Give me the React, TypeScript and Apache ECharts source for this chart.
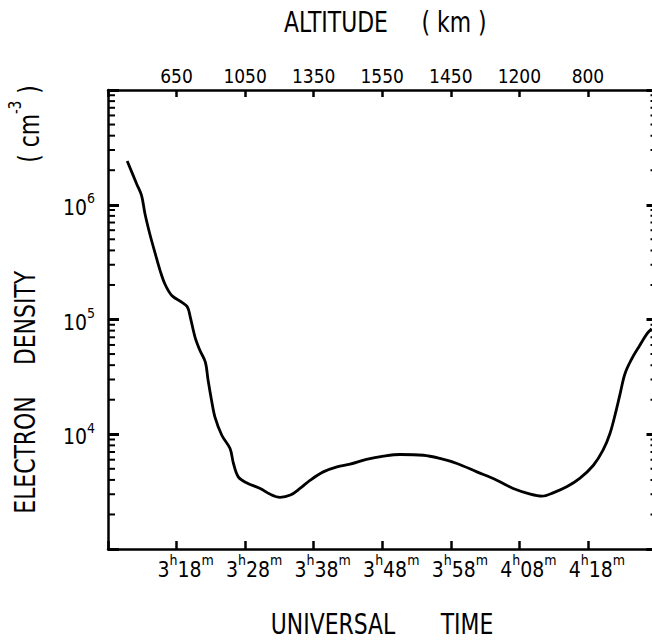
import React, { useEffect, useRef } from "react";
import * as echarts from "echarts";

// ---- data ----
// time in minutes after 0h UT (3h18m = 198)
const timeMinutes = [
  190.8, 192.2, 192.9, 193.4, 194.1, 194.9, 195.6, 196.3, 197.3, 198.8,
  199.6, 200.0, 200.7, 201.4, 202.2, 202.6, 203.1, 203.6, 204.6, 205.8,
  206.3, 207.0, 208.2, 210.2, 211.6, 213.1, 214.6, 216.0, 217.5, 219.4,
  221.4, 223.3, 225.7, 228.2, 230.6, 234.0, 236.4, 238.9, 241.8, 244.7,
  247.1, 249.6, 251.3, 253.0, 254.9, 256.8, 258.8, 260.2, 261.2, 262.0,
  262.7, 263.4, 264.4, 265.4, 266.6, 267.3,
];
// electron density, cm^-3
const electronDensity = [
  2.41e6, 1.51e6, 1.2e6, 8.3e5, 5.56e5, 3.73e5, 2.67e5, 2.04e5, 1.62e5, 1.41e5,
  1.28e5, 1.05e5, 7.0e4, 5.4e4, 4.25e4, 2.95e4, 1.98e4, 1.41e4, 9.8e3, 7.5e3,
  5.56e3, 4.25e3, 3.78e3, 3.37e3, 3.01e3, 2.82e3, 2.95e3, 3.37e3, 3.98e3, 4.7e3,
  5.2e3, 5.48e3, 6.03e3, 6.44e3, 6.66e3, 6.56e3, 6.15e3, 5.56e3, 4.7e3, 3.98e3,
  3.37e3, 3.01e3, 2.89e3, 3.1e3, 3.48e3, 4.12e3, 5.37e3, 7.26e3, 1.01e4, 1.51e4,
  2.26e4, 3.37e4, 4.55e4, 5.74e4, 7.5e4, 8.3e4,
];

const xMin = 188; // 3h08m
const xMax = 268; // 4h28m
const tickTimes = [198, 208, 218, 228, 238, 248, 258];
const timeTickHours = ["3", "3", "3", "3", "3", "4", "4"];
const timeTickMins = ["18", "28", "38", "48", "58", "08", "18"];
const altitudeLabels = ["650", "1050", "1350", "1550", "1450", "1200", "800"];

const yMin = 1e3;
const yMax = 1e7;
const decadeLabels = [4, 5, 6];
const minorMantissas = [2, 3, 4, 5, 6, 7, 8, 9];
const minorDecades = [1e3, 1e4, 1e5, 1e6];

const FONT = "'DejaVu Sans Condensed', 'Liberation Sans Narrow', 'DejaVu Sans', sans-serif";
const TFS = 28; // title font size
const TSX = 0.87; // title horizontal squeeze

export default function App() {
  const ref = useRef<HTMLDivElement>(null);

  useEffect(() => {
    if (!ref.current) return;
    const chart = echarts.init(ref.current, undefined, { renderer: "svg" });

    const lineData = timeMinutes.map((t, i) => [t, electronDensity[i]]);
    const minorTicks: number[][] = [];
    minorDecades.forEach((d) =>
      minorMantissas.forEach((m) => minorTicks.push([xMin, m * d]))
    );

    const tickIndex = (v: number) => tickTimes.indexOf(Math.round(v));
    const axisLineStyle = { color: "#000", width: 2.5 };

    const supRich = {
      n: { fontFamily: FONT, fontSize: 21, color: "#000", verticalAlign: "bottom", padding: [6, 0, 0, 0] },
      s: { fontFamily: FONT, fontSize: 14, color: "#000", verticalAlign: "top" },
    };

    const titleText = (text: string, x: number, y: number, rotation = 0) => ({
      type: "text",
      x,
      y,
      rotation,
      scaleX: TSX,
      style: {
        text,
        fontFamily: FONT,
        fontSize: TFS,
        fill: "#000",
        align: "center",
        verticalAlign: "middle",
      },
    });

    const option: any = {
      animation: false,
      backgroundColor: "#fff",
      grid: { left: 108, right: 23.5, top: 90, bottom: 95, containLabel: false },
      xAxis: [
        {
          type: "value",
          position: "bottom",
          min: xMin,
          max: xMax,
          interval: 10,
          axisLine: { show: true, lineStyle: axisLineStyle },
          axisTick: { show: true, inside: true, length: 8, lineStyle: { color: "#000", width: 2.5 } },
          splitLine: { show: false },
          axisLabel: {
            margin: 4,
            padding: [0, 0, 0, 18],
            formatter: (v: number) => {
              const i = tickIndex(v);
              if (i < 0) return "";
              return `{n|${timeTickHours[i]}}{s|h}{n|${timeTickMins[i]}}{s|m}`;
            },
            rich: supRich,
          },
        },
        {
          type: "value",
          position: "top",
          min: xMin,
          max: xMax,
          interval: 10,
          axisLine: { show: true, lineStyle: axisLineStyle },
          axisTick: { show: true, inside: true, length: 7, lineStyle: { color: "#000", width: 2.5 } },
          splitLine: { show: false },
          axisLabel: {
            margin: 5,
            fontFamily: FONT,
            fontSize: 19,
            color: "#000",
            formatter: (v: number) => {
              const i = tickIndex(v);
              return i < 0 ? "" : altitudeLabels[i];
            },
          },
        },
      ],
      yAxis: [
        {
          type: "log",
          logBase: 10,
          position: "left",
          min: yMin,
          max: yMax,
          axisLine: { show: true, lineStyle: axisLineStyle },
          axisTick: { show: true, inside: true, length: 11, lineStyle: { color: "#000", width: 3 } },
          splitLine: { show: false },
          axisLabel: {
            margin: 13,
            formatter: (v: number) => {
              const e = Math.round(Math.log10(v));
              if (decadeLabels.indexOf(e) < 0) return "";
              return `{n|10}{s|${e}}`;
            },
            rich: supRich,
          },
        },
        {
          type: "log",
          logBase: 10,
          position: "right",
          min: yMin,
          max: yMax,
          axisLine: { show: true, lineStyle: axisLineStyle },
          axisTick: { show: true, inside: true, length: 10, lineStyle: { color: "#000", width: 3 } },
          splitLine: { show: false },
          axisLabel: { show: false },
        },
      ],
      graphic: [
        titleText("ALTITUDE", 336, 22),
        titleText("( km )", 454, 22),
        titleText("UNIVERSAL", 333, 624),
        titleText("TIME", 467, 624),
        titleText("ELECTRON", 25, 455, Math.PI / 2),
        titleText("DENSITY", 25, 318, Math.PI / 2),
        {
          type: "text",
          x: 25,
          y: 124,
          rotation: Math.PI / 2,
          scaleX: TSX,
          style: {
            text: "{a|( cm}{s|-3}{a| )}",
            fill: "#000",
            align: "center",
            verticalAlign: "middle",
            rich: {
              a: { fontFamily: FONT, fontSize: TFS, color: "#000", verticalAlign: "bottom", padding: [8, 0, 0, 0] },
              s: { fontFamily: FONT, fontSize: 17, color: "#000", verticalAlign: "top" },
            },
          },
        },
      ],
      series: [
        {
          type: "line",
          xAxisIndex: 0,
          yAxisIndex: 0,
          data: lineData,
          smooth: 0.35,
          showSymbol: false,
          symbol: "none",
          lineStyle: { color: "#000", width: 2.8 },
        },
        {
          type: "custom",
          xAxisIndex: 0,
          yAxisIndex: 0,
          data: minorTicks,
          silent: true,
          renderItem: (_params: any, api: any) => {
            const v = api.value(1);
            const l = api.coord([xMin, v]);
            const r = api.coord([xMax, v]);
            return {
              type: "group",
              children: [
                {
                  type: "line",
                  shape: { x1: l[0], y1: l[1], x2: l[0] + 7, y2: l[1] },
                  style: { stroke: "#000", lineWidth: 2 },
                },
                {
                  type: "line",
                  shape: { x1: r[0] - 6, y1: r[1], x2: r[0], y2: r[1] },
                  style: { stroke: "#000", lineWidth: 2 },
                },
              ],
            };
          },
        },
      ],
    };

    chart.setOption(option);
    return () => chart.dispose();
  }, []);

  return (
    <div
      style={{ position: "absolute", left: 0, top: 0, width: 652, height: 644, overflow: "hidden", background: "#fff" }}
    >
      <div ref={ref} style={{ width: 680, height: 644 }} />
    </div>
  );
}
